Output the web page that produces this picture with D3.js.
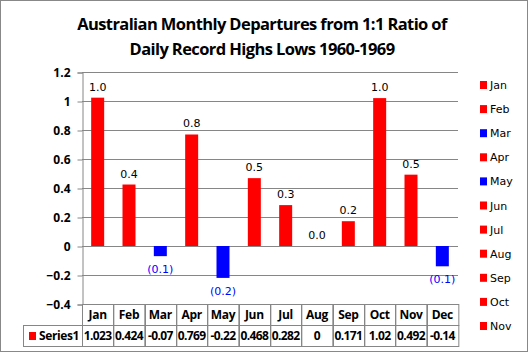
<!DOCTYPE html>
<html>
<head>
<meta charset="utf-8">
<script src="https://cdn.jsdelivr.net/npm/d3@7"></script>
<style>
  body { margin: 0; background: #fff; }
  svg { display: block; }
</style>
</head>
<body>
<div id="chart"></div>
<script>
// chart data
var months = ["Jan", "Feb", "Mar", "Apr", "May", "Jun", "Jul", "Aug", "Sep", "Oct", "Nov", "Dec"];
var values = [1.023, 0.424, -0.07, 0.769, -0.22, 0.468, 0.282, 0, 0.171, 1.02, 0.492, -0.14];
var tableText = ["1.023", "0.424", "-0.07", "0.769", "-0.22", "0.468", "0.282", "0", "0.171", "1.02", "0.492", "-0.14"];
var yTicks = [-0.4, -0.2, 0, 0.2, 0.4, 0.6, 0.8, 1, 1.2];
var legendMonths = months.slice(0, 11);

var W = 528, H = 353;
var plot = {left: 82, right: 458, top: 72, bottom: 304};

var svg = d3.select("#chart").append("svg")
    .attr("width", W)
    .attr("height", H);

// outer border
svg.append("rect")
    .attr("x", 0.5).attr("y", 0.5)
    .attr("width", W - 1).attr("height", H - 2)
    .attr("fill", "#fff")
    .attr("stroke", "#888");

// title
svg.append("text")
    .attr("x", 262).attr("y", 30)
    .attr("text-anchor", "middle")
    .style("font", "bold 16.5px 'Open Sans', sans-serif")
    .style("letter-spacing", "-0.6px")
    .text("Australian Monthly Departures from 1:1 Ratio of");
svg.append("text")
    .attr("x", 262).attr("y", 55)
    .attr("text-anchor", "middle")
    .style("font", "bold 16.5px 'Open Sans', sans-serif")
    .style("letter-spacing", "-0.6px")
    .text("Daily Record Highs Lows 1960-1969");

// scales
var x = d3.scaleBand()
    .domain(months)
    .range([plot.left, plot.right]);
var y = d3.scaleLinear()
    .domain([-0.4, 1.2])
    .range([plot.bottom, plot.top]);

// gridlines
svg.append("g").selectAll("line")
    .data(yTicks)
  .enter().append("line")
    .attr("x1", plot.left).attr("x2", plot.right)
    .attr("y1", function(d) { return Math.round(y(d)) + 0.5; })
    .attr("y2", function(d) { return Math.round(y(d)) + 0.5; })
    .attr("stroke", "#868686");

// y axis
var yAxis = d3.axisLeft(y)
    .tickValues(yTicks)
    .tickSize(5)
    .tickFormat(function(d) { return d3.format("")(Math.round(d * 10) / 10); });
var gy = svg.append("g")
    .attr("transform", "translate(" + (plot.left + 0.5) + ",0.5)")
    .call(yAxis);
gy.select(".domain").attr("stroke", "#868686");
gy.selectAll(".tick line").attr("stroke", "#868686");
gy.selectAll(".tick text")
    .attr("x", -12)
    .style("font", "bold 12px 'Open Sans', sans-serif")
    .attr("fill", "#000");

// bars
var barW = 13;
svg.append("g").selectAll("rect")
    .data(values)
  .enter().append("rect")
    .attr("x", function(d, i) { return x(months[i]) + x.bandwidth() / 2 - barW / 2; })
    .attr("width", barW)
    .attr("y", function(d) { return y(Math.max(0, d)); })
    .attr("height", function(d) { return Math.abs(y(d) - y(0)); })
    .attr("fill", function(d) { return d < 0 ? "#0000ff" : "#ff0000"; });

// data labels
svg.append("g").selectAll("text")
    .data(values)
  .enter().append("text")
    .attr("x", function(d, i) { return x(months[i]) + x.bandwidth() / 2; })
    .attr("y", function(d) { return d < 0 ? y(d) + 17 : y(d) - 7; })
    .attr("text-anchor", "middle")
    .style("font", "11px 'DejaVu Sans', sans-serif")
    .attr("fill", function(d) { return d < 0 ? "#0000ff" : "#000"; })
    .text(function(d) { return d < 0 ? "(" + d3.format(".1f")(-d) + ")" : d3.format(".1f")(d); });

// data table
var rowH = 21;
var tableLeft = 23;
var table = svg.append("g").attr("stroke", "#868686").attr("fill", "none");
// header row cells
months.forEach(function(m) {
  table.append("rect")
      .attr("x", Math.round(x(m)) + 0.5).attr("y", plot.bottom + 0.5)
      .attr("width", x.bandwidth()).attr("height", rowH);
  table.append("rect")
      .attr("x", Math.round(x(m)) + 0.5).attr("y", plot.bottom + rowH + 0.5)
      .attr("width", x.bandwidth()).attr("height", rowH);
});
table.append("rect")
    .attr("x", tableLeft + 0.5).attr("y", plot.bottom + rowH + 0.5)
    .attr("width", plot.left - tableLeft).attr("height", rowH);

svg.append("g").selectAll("text")
    .data(months)
  .enter().append("text")
    .attr("x", function(d) { return x(d) + x.bandwidth() / 2; })
    .attr("y", plot.bottom + 15)
    .attr("text-anchor", "middle")
    .style("font", "bold 12px 'Open Sans', sans-serif")
    .style("letter-spacing", "-0.3px")
    .text(function(d) { return d; });

svg.append("g").selectAll("text")
    .data(tableText)
  .enter().append("text")
    .attr("x", function(d, i) { return x(months[i]) + x.bandwidth() / 2; })
    .attr("y", plot.bottom + rowH + 15)
    .attr("text-anchor", "middle")
    .style("font", "bold 12px 'Open Sans', sans-serif")
    .style("letter-spacing", "-0.6px")
    .text(function(d) { return d; });

svg.append("rect")
    .attr("x", 29).attr("y", plot.bottom + rowH + 7)
    .attr("width", 7).attr("height", 8)
    .attr("fill", "#ff0000");
svg.append("text")
    .attr("x", 39).attr("y", plot.bottom + rowH + 15)
    .style("font", "bold 12px 'Open Sans', sans-serif")
    .style("letter-spacing", "-0.4px")
    .text("Series1");

// legend
var legend = svg.append("g").selectAll("g")
    .data(legendMonths)
  .enter().append("g")
    .attr("transform", function(d, i) { return "translate(480," + (81 + i * 24.1) + ")"; });
legend.append("rect")
    .attr("width", 7).attr("height", 8)
    .attr("fill", function(d) { return values[months.indexOf(d)] < 0 ? "#0000ff" : "#ff0000"; });
legend.append("text")
    .attr("x", 10).attr("y", 8)
    .style("font", "11px 'DejaVu Sans', sans-serif")
    .text(function(d) { return d; });
</script>
</body>
</html>
